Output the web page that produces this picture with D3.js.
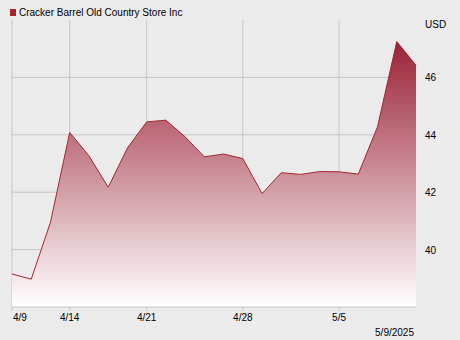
<!DOCTYPE html>
<html>
<head>
<meta charset="utf-8">
<script src="https://cdn.jsdelivr.net/npm/d3@7"></script>
<style>
  body { margin: 0; background: #ebebeb; }
  svg { display: block; font-family: "Liberation Sans", Arial, sans-serif; }
</style>
</head>
<body>
<div class="chart"></div>
<script>
// Trading days shown on the chart
const dates = ['4/9', '4/10', '4/11', '4/14', '4/15', '4/16', '4/17', '4/21', '4/22', '4/23', '4/24',
    '4/25', '4/28', '4/29', '4/30', '5/1', '5/2', '5/5', '5/6', '5/7', '5/8', '5/9']
const prices = [39.15, 38.97, 40.95, 44.08, 43.27, 42.17, 43.54, 44.45, 44.51, 43.93, 43.23,
    43.33, 43.17, 41.95, 42.68, 42.62, 42.72, 42.71, 42.63, 44.28, 47.25, 46.42]
const xTicks = ['4/9', '4/14', '4/21', '4/28', '5/5']
const yTicks = [40, 42, 44, 46]
const seriesName = 'Cracker Barrel Old Country Store Inc'
const lastDate = '5/9/2025'

const width = 460
const height = 340
const margin = {top: 20, right: 44, bottom: 33, left: 12}

let svg = d3.select('.chart')
    .append('svg')
    .attr('width', width)
    .attr('height', height)

let x = d3.scalePoint()
    .domain(dates)
    .range([margin.left, width - margin.right])

let y = d3.scaleLinear()
    .domain([38, 48])
    .range([height - margin.bottom, margin.top])

let data = dates.map((d, i) => ({date: d, price: prices[i]}))

// gradient fill, dark red at the top fading to white
let grad = svg.append('defs').append('linearGradient')
    .attr('id', 'fill')
    .attr('gradientUnits', 'userSpaceOnUse')
    .attr('x1', 0).attr('x2', 0)
    .attr('y1', y(d3.max(prices))).attr('y2', y(38))
grad.append('stop').attr('offset', '0%').attr('stop-color', '#9a2236')
grad.append('stop').attr('offset', '100%').attr('stop-color', '#ffffff')

// grid
svg.append('g')
    .selectAll('line')
    .data(yTicks)
    .enter()
    .append('line')
    .attr('x1', margin.left)
    .attr('x2', width - margin.right)
    .attr('y1', d => y(d))
    .attr('y2', d => y(d))
    .style('stroke', '#c6c6c6')

svg.append('g')
    .selectAll('line')
    .data(xTicks)
    .enter()
    .append('line')
    .attr('x1', d => x(d))
    .attr('x2', d => x(d))
    .attr('y1', margin.top)
    .attr('y2', height - margin.bottom + 4)
    .style('stroke', '#c6c6c6')

svg.append('path')
    .datum(data)
    .attr('d', d3.area()
        .x(d => x(d.date))
        .y0(y(38))
        .y1(d => y(d.price)))
    .style('fill', 'url(#fill)')

svg.append('path')
    .datum(data)
    .attr('d', d3.line()
        .x(d => x(d.date))
        .y(d => y(d.price)))
    .style('fill', 'none')
    .style('stroke', '#a3262f')
    .style('stroke-width', 1)

// baseline
svg.append('line')
    .attr('x1', margin.left)
    .attr('x2', width - margin.right)
    .attr('y1', y(38))
    .attr('y2', y(38))
    .style('stroke', '#c6c6c6')

// y labels on the right
svg.append('g')
    .selectAll('text')
    .data(yTicks)
    .enter()
    .append('text')
    .attr('x', 425)
    .attr('y', d => y(d) + 4)
    .attr('font-size', 10)
    .text(d => d)

svg.append('text')
    .attr('x', 425)
    .attr('y', 28)
    .attr('font-size', 10)
    .text('USD')

// x labels
svg.append('g')
    .selectAll('text')
    .data(xTicks)
    .enter()
    .append('text')
    .attr('x', (d, i) => i == 0 ? x(d) + 1 : x(d))
    .attr('y', 321)
    .attr('text-anchor', (d, i) => i == 0 ? 'start' : 'middle')
    .attr('font-size', 10)
    .text(d => d)

svg.append('text')
    .attr('x', x(dates[dates.length - 1]) - 2)
    .attr('y', 336)
    .attr('text-anchor', 'end')
    .attr('font-size', 10)
    .text(lastDate)

// legend
svg.append('rect')
    .attr('x', 10)
    .attr('y', 9)
    .attr('width', 6)
    .attr('height', 7)
    .style('fill', '#a3262f')

svg.append('text')
    .attr('x', 19)
    .attr('y', 16)
    .attr('font-size', 10)
    .text(seriesName)
</script>
</body>
</html>
